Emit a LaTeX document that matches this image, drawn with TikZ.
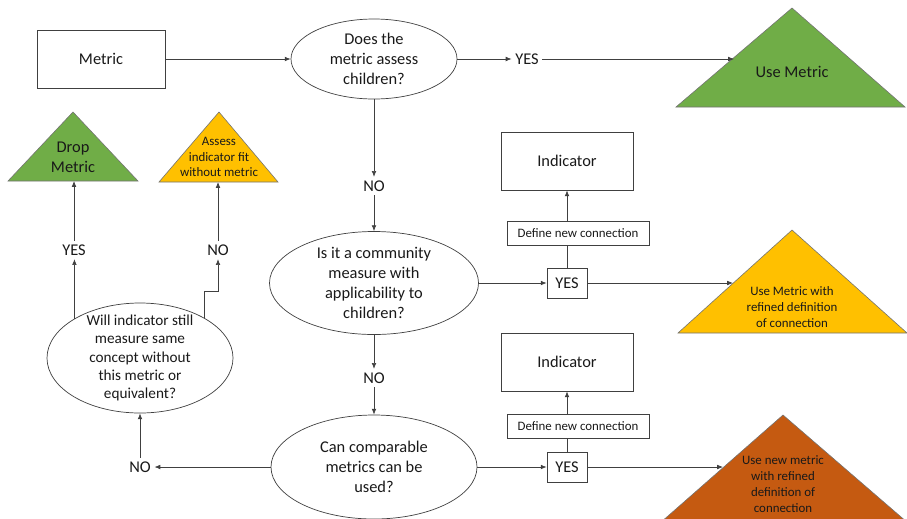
\documentclass[tikz,border=0pt]{standalone}
\usepackage{fontspec}
\setmainfont{Carlito}
\usetikzlibrary{arrows.meta,positioning,shapes.geometric}
\definecolor{metricgreen}{HTML}{70AD47}
\definecolor{metricamber}{HTML}{FFC000}
\definecolor{metricrust}{HTML}{C55A11}
\definecolor{edge}{HTML}{404040}

\begin{document}
\begin{tikzpicture}[>={Latex[length=5pt,width=4pt]},x=0.03cm,y=-0.03cm,
    every node/.style={font=\fontsize{14}{17}\selectfont,text=black!90}]
  \tikzstyle{box}=[draw=edge,line width=0.6pt,align=center,inner sep=2pt]
  \tikzstyle{ask}=[draw=edge,line width=0.6pt,ellipse,align=center]
  \tikzstyle{word}=[inner sep=3pt]
  \tikzstyle{small}=[font=\fontsize{11}{13.5}\selectfont,align=center]
  \tikzstyle{link}=[draw=edge,line width=0.6pt]
  \tikzstyle{tri}=[draw=black!55,line width=0.5pt]
  \useasboundingbox (0,0) rectangle (907,518);

  % top row
  \node[box,minimum width=3.84cm,minimum height=1.74cm] (metric) at (101,59) {Metric};
  \node[ask,inner sep=-1pt,minimum width=4.98cm,minimum height=2.4cm] (q1) at (374,59) {Does the\\metric assess\\children?};
  \node[word] (yes1) at (527,59) {YES};
  \fill[metricgreen,tri] (676,107) -- (792,8) -- (905,107) -- cycle;
  \node (usemetric) at (792,72) {Use Metric};
  \coordinate (usemetric-in) at (734,59);
  \draw[link,->] (metric) -- (q1);
  \draw[link,->] (q1) -- (yes1);
  \draw[link,->] (yes1) -- (usemetric-in);

  % community measure
  \node[word] (no1) at (374,186) {NO};
  \node[ask,inner sep=-3pt,minimum width=6.27cm,minimum height=3.09cm] (q2) at (374,283) {Is it a community\\measure with\\applicability to\\children?};
  \draw[link,->] (q1) -- (no1);
  \draw[link,->] (no1) -- (q2);
  \node[box,minimum width=1.2cm,minimum height=0.9cm] (yes2) at (567,283) {YES};
  \node[box,small,minimum width=4.26cm,minimum height=0.72cm] (define1) at (578,233) {Define new connection};
  \node[box,minimum width=3.96cm,minimum height=1.74cm] (ind1) at (567,161) {Indicator};
  \draw[link,->] (q2) -- (yes2);
  \draw[link] (yes2.north) -- (yes2.north |- define1.south);
  \draw[link,->] (yes2.north |- define1.north) -- (ind1);
  \fill[metricamber,tri] (678,333) -- (792,230) -- (907,333) -- cycle;
  \node[small] (refine) at (792,307) {Use Metric with\\refined definition\\of connection};
  \coordinate (refine-in) at (733,283);
  \draw[link,->] (yes2) -- (refine-in);

  % comparable metrics
  \node[word] (no2) at (374,378) {NO};
  \node[ask,inner sep=-1pt,minimum width=6.18cm,minimum height=3.12cm] (q3) at (374,467) {Can comparable\\metrics can be\\used?};
  \draw[link,->] (q2) -- (no2);
  \draw[link,->] (no2) -- (q3);
  \node[box,minimum width=1.2cm,minimum height=0.9cm] (yes3) at (567,467) {YES};
  \node[box,small,minimum width=4.26cm,minimum height=0.72cm] (define2) at (578,426) {Define new connection};
  \node[box,minimum width=3.96cm,minimum height=1.74cm] (ind2) at (567,362) {Indicator};
  \draw[link,->] (q3) -- (yes3);
  \draw[link] (yes3.north) -- (yes3.north |- define2.south);
  \draw[link,->] (yes3.north |- define2.north) -- (ind2);
  \begin{scope}
    \clip (0,0) rectangle (907,518);
    \fill[metricrust,tri] (660,523) -- (783,415) -- (908,523) -- cycle;
  \end{scope}
  \node[small] (newmetric) at (783,484) {Use new metric\\with refined\\definition of\\connection};
  \coordinate (newmetric-in) at (723,467);
  \draw[link,->] (yes3) -- (newmetric-in);

  % left branch
  \node[word] (no3) at (140,467) {NO};
  \node[ask,font=\fontsize{13}{15.5}\selectfont,inner sep=-6pt,minimum width=5.58cm,minimum height=3.3cm] (q4) at (140,358) {Will indicator still\\measure same\\concept without\\this metric or\\equivalent?};
  \draw[link,->] (q3) -- (no3);
  \draw[link,->] (no3) -- (q4);
  \node[word] (yes4) at (74,250) {YES};
  \node[word] (no4) at (218,250) {NO};
  \fill[metricgreen,tri] (8,181) -- (73,112) -- (138,181) -- cycle;
  \node[align=center] (drop) at (73,157) {Drop\\Metric};
  \fill[metricamber,tri] (159,182) -- (219,112) -- (278,182) -- cycle;
  \node[small] (assess) at (219,157) {Assess\\indicator fit\\without metric};
  \coordinate (drop-in) at (74,181);
  \coordinate (assess-in) at (218,182);
  \coordinate (bend) at (218,291);
  \draw[link,->] (q4.149) -- (q4.149 |- yes4.south);
  \draw[link,->] (yes4) -- (drop-in);
  \draw[link,->] (q4.32) |- (bend) -- (no4);
  \draw[link,->] (no4) -- (assess-in);
\end{tikzpicture}
\end{document}
